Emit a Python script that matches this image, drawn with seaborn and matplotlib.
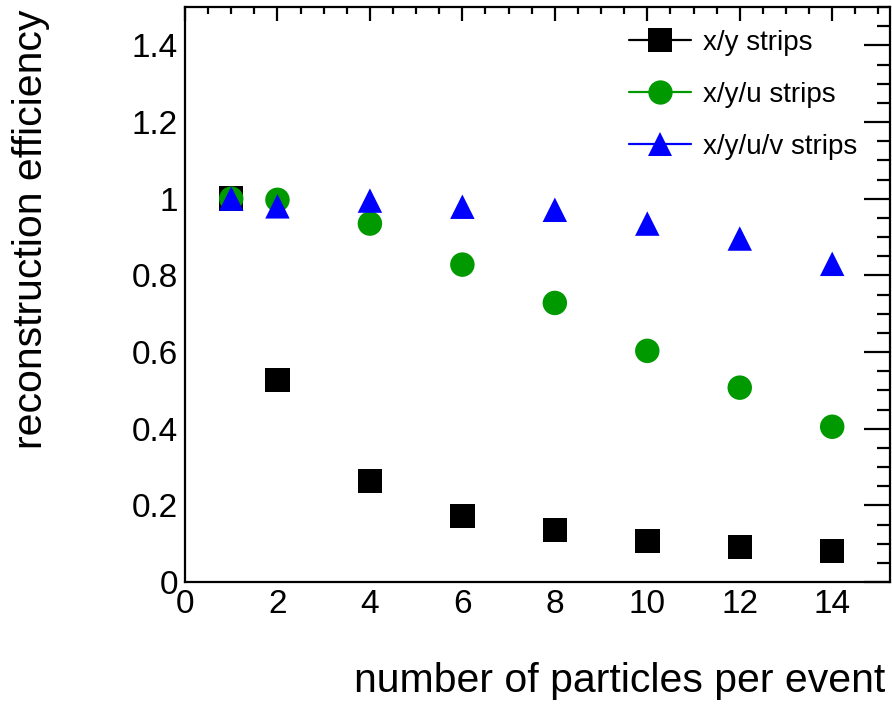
import matplotlib
matplotlib.use("Agg")
import matplotlib.pyplot as plt
from matplotlib.lines import Line2D
from matplotlib.ticker import MultipleLocator, FuncFormatter
import seaborn as sns
import pandas as pd

# Reconstruction efficiency versus particle multiplicity
particles = [1, 2, 4, 6, 8, 10, 12, 14]
eff_xy = [1.0, 0.527, 0.264, 0.172, 0.136, 0.107, 0.091, 0.081]
eff_xyu = [1.0, 0.997, 0.935, 0.828, 0.728, 0.603, 0.507, 0.405]
eff_xyuv = [1.0, 0.980, 0.995, 0.979, 0.971, 0.935, 0.896, 0.830]

series_names = ["x/y strips", "x/y/u strips", "x/y/u/v strips"]
series_colors = ["#000000", "#009900", "#0000ff"]
series_markers = ["s", "o", "^"]

x_ticks = [0, 2, 4, 6, 8, 10, 12, 14]
y_ticks = [0, 0.2, 0.4, 0.6, 0.8, 1.0, 1.2, 1.4]

df = pd.DataFrame({
    "particles": particles * 3,
    "efficiency": eff_xy + eff_xyu + eff_xyuv,
    "config": sum([[n] * len(particles) for n in series_names], []),
})

sns.set_theme(style="white")
plt.rcParams["font.family"] = ["Liberation Sans", "DejaVu Sans"]

fig = plt.figure(figsize=(8.92, 7.08), dpi=100)
ax = fig.add_axes([185 / 892, 126 / 708, 705 / 892, 575 / 708])

sns.scatterplot(
    data=df, x="particles", y="efficiency", hue="config", style="config",
    hue_order=series_names, style_order=series_names,
    palette=series_colors, markers=dict(zip(series_names, series_markers)),
    s=310, linewidth=0, ax=ax, legend=False, zorder=3,
)

ax.set_xlim(0, 15.25)
ax.set_ylim(0, 1.5)
ax.set_xticks(x_ticks)
ax.set_yticks(y_ticks)
ax.xaxis.set_minor_locator(MultipleLocator(0.5))
ax.yaxis.set_minor_locator(MultipleLocator(0.05))
fmt = FuncFormatter(lambda v, p: f"{v:g}")
ax.xaxis.set_major_formatter(fmt)
ax.yaxis.set_major_formatter(fmt)

for s in ax.spines.values():
    s.set_color("black")
    s.set_linewidth(1.6)

ax.tick_params(axis="both", which="both", direction="in", top=True, right=True,
               color="black", width=1.6, labelsize=24, labelcolor="black")
ax.tick_params(axis="x", which="major", length=10, pad=5)
ax.tick_params(axis="x", which="minor", length=5)
ax.tick_params(axis="y", which="major", length=19, pad=5)
ax.tick_params(axis="y", which="minor", length=9.5)

ax.set_xlabel("number of particles per event", fontsize=29.5, color="black")
ax.xaxis.set_label_coords(0.993, -0.14)
ax.xaxis.label.set_horizontalalignment("right")
ax.xaxis.label.set_verticalalignment("top")

ax.set_ylabel("reconstruction efficiency", fontsize=29.5, color="black")
ax.yaxis.set_label_coords(-0.1915, 0.995)
ax.yaxis.label.set_horizontalalignment("right")

handles = [
    Line2D([0], [0], color=c, marker=m, markersize=17.5, markeredgewidth=0, linewidth=1.6)
    for c, m in zip(series_colors, series_markers)
]
ax.legend(handles, series_names, loc="upper left",
          bbox_to_anchor=((629 - 185) / 705, (582 - 30) / 575),
          frameon=False, fontsize=20, handlelength=2.23, handletextpad=0.43,
          labelspacing=0.93, borderaxespad=0, borderpad=0, labelcolor="black")

ax.set_facecolor("white")
fig.patch.set_facecolor("white")
fig.savefig("out.png", dpi=100)
